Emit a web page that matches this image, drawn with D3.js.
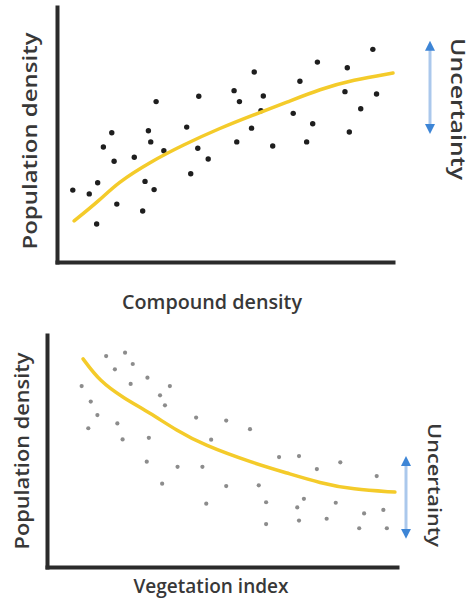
<html>
<head>
<script src="https://cdn.jsdelivr.net/npm/d3@7"></script>
<style>
  body { margin: 0; background: #fff; }
  text { font-family: "Open Sans", Lato, sans-serif; fill: #383838; font-weight: 600; }
</style>
</head>
<body>
<svg id="svg" width="473" height="605"></svg>
<script>
// top panel: compound density vs population density
var topX = [4.7, 9.6, 11.8, 12.1, 13.8, 16.3, 17.0, 17.8, 23.0, 25.5, 26.2, 27.2, 27.9, 28.9, 29.5, 31.8,
            38.6, 39.8, 41.9, 42.2, 45.0, 52.7, 53.5, 54.3, 57.9, 58.7, 60.7, 61.4, 64.2, 70.3, 72.3, 74.3,
            76.1, 77.5, 85.7, 86.4, 87.0, 90.4, 94.0, 95.1];
var topY = [28.2, 26.7, 14.9, 31.1, 45.1, 50.7, 39.5, 22.7, 41.1, 20.0, 31.6, 51.5, 47.1, 28.4, 62.9, 43.6,
            52.9, 34.6, 44.6, 65.0, 40.4, 67.2, 47.1, 62.9, 52.5, 74.5, 59.3, 65.1, 45.5, 58.3, 70.9, 47.1,
            54.2, 78.4, 66.8, 76.2, 51.0, 60.1, 83.4, 65.9];
var topFitX = [5.1, 12.8, 17.9, 27.7, 37.5, 48.5, 58.3, 68.5, 78.3, 88.1, 100];
var topFitY = [16.1, 24.3, 31.0, 39.2, 45.9, 52.5, 57.6, 62.7, 67.8, 71.4, 74.1];
var topBand = [51, 86];

// bottom panel: vegetation index vs population density
var botX = [9.9, 11.8, 12.5, 14.4, 16.9, 19.4, 20.1, 21.6, 22.3, 23.9, 24.5, 28.5, 28.7, 29.1, 32.3, 32.9,
            33.7, 35.1, 37.3, 42.6, 44.4, 45.5, 46.9, 51.2, 51.2, 58.0, 60.5, 62.6, 62.6, 66.3, 71.5, 72.0,
            72.0, 73.4, 77.1, 79.9, 82.5, 83.8, 89.2, 90.6, 94.2, 96.1, 97.1];
var botY = [78.0, 59.8, 71.3, 65.5, 90.9, 85.2, 61.9, 55.0, 92.4, 78.9, 87.5, 45.4, 81.6, 55.7, 74.0, 35.9,
            69.7, 78.0, 43.2, 64.4, 43.2, 27.3, 54.9, 63.1, 34.9, 59.4, 35.2, 27.9, 18.5, 47.4, 25.7, 47.8,
            20.0, 29.4, 42.2, 20.8, 27.7, 45.1, 16.7, 23.1, 39.2, 24.6, 16.7];
var botFitX = [10.3, 15.1, 21.7, 29.4, 37.1, 44.6, 58.9, 68.6, 78.0, 87.4, 99.4];
var botFitY = [89.7, 80.0, 73.0, 66.4, 58.8, 52.7, 44.8, 40.5, 36.2, 33.4, 32.3];
var botBand = [13, 47];

var svg = d3.select("svg");

var defs = svg.append("defs");
defs.append("marker").attr("id", "head")
    .attr("viewBox", "0 0 10 10").attr("refX", 5).attr("refY", 5)
    .attr("markerWidth", 10).attr("markerHeight", 10)
    .attr("markerUnits", "userSpaceOnUse")
    .attr("orient", "auto-start-reverse")
  .append("path").attr("d", "M0,0L10,5L0,10Z").attr("fill", "#3d85d6");

function label(g, t, cx, cy, rot, fs, len) {
    var tr = "translate(" + cx + "," + cy + ")" + (rot ? " rotate(" + rot + ")" : "");
    g.append("text").attr("text-anchor", "middle").attr("transform", tr)
        .attr("textLength", len).attr("lengthAdjust", "spacingAndGlyphs")
        .style("font-size", fs + "px").text(t);
}

function panel(cfg) {
    var x = d3.scaleLinear().domain([0, 100]).range(cfg.xr);
    var y = d3.scaleLinear().domain([0, 100]).range(cfg.yr);
    var g = svg.append("g");

    g.append("g").attr("transform", "translate(0," + cfg.yr[0] + ")")
        .call(d3.axisBottom(x).ticks(0).tickSizeOuter(0));
    g.append("g").attr("transform", "translate(" + cfg.xr[0] + ",0)")
        .call(d3.axisLeft(y).ticks(0).tickSizeOuter(0));
    g.selectAll(".domain").attr("stroke", "#2b2b2b").attr("stroke-width", 4)
        .attr("stroke-linecap", "square");

    var pts = cfg.px.map(function(v, i) { return [v, cfg.py[i]]; });
    g.selectAll("circle").data(pts).enter().append("circle")
        .attr("cx", function(d) { return x(d[0]); })
        .attr("cy", function(d) { return y(d[1]); })
        .attr("r", cfg.r).attr("fill", cfg.dot);

    var fit = cfg.fx.map(function(v, i) { return [x(v), y(cfg.fy[i])]; });
    g.append("path").attr("d", d3.line().curve(d3.curveBasis)(fit))
        .attr("fill", "none").attr("stroke", "#f4cb2a").attr("stroke-width", 3.5)
        .attr("stroke-linecap", "round");

    var bx = cfg.xr[0] + cfg.arrowDx;
    g.append("line")
        .attr("x1", bx).attr("x2", bx)
        .attr("y1", y(cfg.band[1]) + 3).attr("y2", y(cfg.band[0]) - 3)
        .attr("stroke", "#abc8ec").attr("stroke-width", 3)
        .attr("marker-start", "url(#head)").attr("marker-end", "url(#head)");

    label(g, "Population density", cfg.ylab[0], cfg.ylab[1], -90, cfg.fs, cfg.ylab[2]);
    label(g, cfg.xname, cfg.xlab[0], cfg.xlab[1], 0, cfg.fs, cfg.xlab[2]);
    label(g, "Uncertainty", cfg.ulab[0], cfg.ulab[1], 90, cfg.ufs, cfg.ulab[2]);
}

panel({
    xr: [57, 393], yr: [262, 7], px: topX, py: topY, fx: topFitX, fy: topFitY,
    band: topBand, arrowDx: 373, r: 2.7, dot: "#1e1e1e",
    ylab: [37, 141, 217], xlab: [212, 309, 180], ulab: [451, 109, 142], fs: 20, ufs: 19,
    xname: "Compound density"
});

panel({
    xr: [47, 397], yr: [567, 335], px: botX, py: botY, fx: botFitX, fy: botFitY,
    band: botBand, arrowDx: 359, r: 2.1, dot: "#8c8c8c",
    ylab: [29, 451, 197], xlab: [211, 593, 155], ulab: [428, 485, 124], fs: 19, ufs: 18,
    xname: "Vegetation index"
});
</script>
</body>
</html>
